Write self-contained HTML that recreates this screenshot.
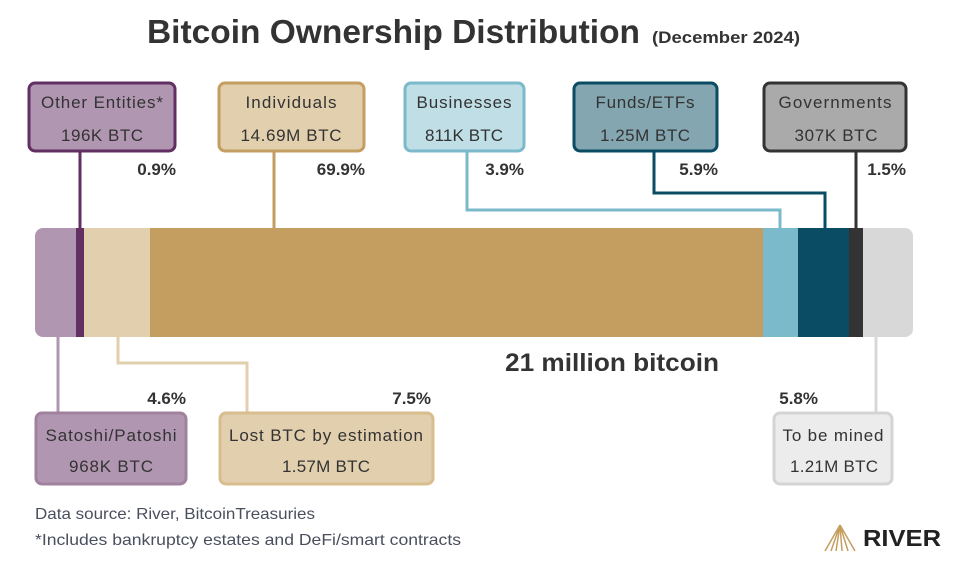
<!DOCTYPE html>
<html><head><style>
html,body{margin:0;padding:0;background:#fff;}
svg{display:block;font-family:"Liberation Sans",sans-serif;}
</style></head><body>
<svg width="959" height="566" viewBox="0 0 959 566" xmlns="http://www.w3.org/2000/svg">
<text x="147" y="43" font-size="33" font-weight="bold" fill="#333" textLength="493" lengthAdjust="spacingAndGlyphs">Bitcoin Ownership Distribution</text>
<text x="652" y="43" font-size="17" font-weight="bold" fill="#333" textLength="148" lengthAdjust="spacingAndGlyphs">(December 2024)</text>

<g fill="none" stroke-width="3">
<path d="M80 152V228" stroke="#622f63"/>
<path d="M274 152V228" stroke="#c49e61"/>
<path d="M467 152V210H780V228" stroke="#7bbacb"/>
<path d="M654 152V193H825V228" stroke="#0a4c63"/>
<path d="M856 152V228" stroke="#333"/>
<path d="M58 337V412" stroke="#b096b1"/>
<path d="M118 337V363H247V412" stroke="#e2cfae"/>
<path d="M876 337V413" stroke="#d8d8d8"/>
</g>

<defs><clipPath id="c"><rect x="35" y="228" width="878" height="109" rx="8"/></clipPath></defs>
<g clip-path="url(#c)">
<rect x="35" y="228" width="41" height="109" fill="#b096b1"/>
<rect x="76" y="228" width="8" height="109" fill="#622f63"/>
<rect x="84" y="228" width="66" height="109" fill="#e2cfae"/>
<rect x="150" y="228" width="613" height="109" fill="#c49e61"/>
<rect x="763" y="228" width="35" height="109" fill="#7bbacb"/>
<rect x="798" y="228" width="51" height="109" fill="#0a4c63"/>
<rect x="849" y="228" width="14" height="109" fill="#333"/>
<rect x="863" y="228" width="50" height="109" fill="#d8d8d8"/>
</g>

<g stroke-width="3">
<rect x="29" y="83" width="146" height="68" rx="6" fill="#b096b1" stroke="#622f63"/>
<rect x="219" y="83" width="145" height="68" rx="6" fill="#e2cfae" stroke="#c49e61"/>
<rect x="405" y="83" width="119" height="68" rx="6" fill="#bfdee5" stroke="#7bbacb"/>
<rect x="574" y="83" width="143" height="68" rx="6" fill="#84a6b1" stroke="#0a4c63"/>
<rect x="764" y="83" width="142" height="68" rx="6" fill="#aaa" stroke="#333"/>
<rect x="36" y="413" width="150" height="71" rx="6" fill="#b096b1" stroke="#a0829f"/>
<rect x="220" y="413" width="213" height="71" rx="6" fill="#e2cfae" stroke="#d8bd8e"/>
<rect x="774" y="413" width="118" height="71" rx="6" fill="#ececec" stroke="#d4d4d4"/>
</g>
<g font-size="17" fill="#333" text-anchor="middle" lengthAdjust="spacingAndGlyphs">
<text x="102" y="108" textLength="122">Other Entities*</text><text x="102" y="141" textLength="82">196K BTC</text>
<text x="291" y="108" textLength="91">Individuals</text><text x="291" y="141" textLength="101">14.69M BTC</text>
<text x="464" y="108" textLength="95">Businesses</text><text x="464" y="141" textLength="78">811K BTC</text>
<text x="645" y="108" textLength="99">Funds/ETFs</text><text x="645" y="141" textLength="90">1.25M BTC</text>
<text x="835" y="108" textLength="113">Governments</text><text x="836" y="141" textLength="83">307K BTC</text>
<text x="111" y="441" textLength="131">Satoshi/Patoshi</text><text x="111" y="472" textLength="84">968K BTC</text>
<text x="326" y="441" textLength="194">Lost BTC by estimation</text><text x="326" y="472" textLength="88">1.57M BTC</text>
<text x="833" y="441" textLength="101">To be mined</text><text x="834" y="472" textLength="88">1.21M BTC</text>
</g>
<g font-size="17" font-weight="bold" fill="#333" text-anchor="end">
<text x="176" y="175">0.9%</text>
<text x="365" y="175">69.9%</text>
<text x="524" y="175">3.9%</text>
<text x="718" y="175">5.9%</text>
<text x="906" y="175">1.5%</text>
<text x="186" y="404">4.6%</text>
<text x="431" y="404">7.5%</text>
<text x="818" y="404">5.8%</text>
</g>
<text x="505" y="371" font-size="25" font-weight="bold" fill="#333" textLength="214" lengthAdjust="spacingAndGlyphs">21 million bitcoin</text>
<text x="35" y="519" font-size="16" fill="#4a4f5e" textLength="280" lengthAdjust="spacingAndGlyphs">Data source: River, BitcoinTreasuries</text>
<text x="35" y="545" font-size="16" fill="#4a4f5e" textLength="426" lengthAdjust="spacingAndGlyphs">*Includes bankruptcy estates and DeFi/smart contracts</text>
<g stroke="#c49e61" stroke-width="1.5" fill="none">
<path d="M840 525L825 551M840 525L831 551M840 525L836 551M840 525L842 551M840 525L848 551M840 525L855 551"/>
</g>
<text x="863" y="546" font-size="23" font-weight="bold" fill="#222" textLength="78" lengthAdjust="spacingAndGlyphs">RIVER</text>
</svg>
</body></html>
